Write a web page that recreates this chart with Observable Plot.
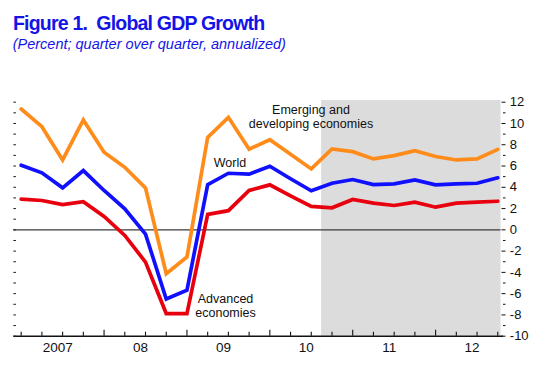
<!DOCTYPE html>
<html>
<head>
<meta charset="utf-8">
<script src="https://cdn.jsdelivr.net/npm/d3@7"></script>
<script src="https://cdn.jsdelivr.net/npm/@observablehq/plot@0.6"></script>
<style>
  body { margin: 0; background: #fff; width: 550px; height: 374px; overflow: hidden; font-family: "Liberation Sans", Arial, sans-serif; }
  #header { position: relative; height: 60px; }
  #title { position: absolute; left: 13px; top: 11.7px; font-size: 19.5px; font-weight: bold; color: #1414e6; letter-spacing: -0.8px; white-space: pre; line-height: normal; }
  #subtitle { position: absolute; left: 12.7px; top: 36.2px; font-size: 14.5px; font-style: italic; color: #1414e6; white-space: pre; line-height: normal; }
  #chart svg { display: block; }
</style>
</head>
<body>
<div id="header">
  <div id="title">Figure 1.  Global GDP Growth</div>
  <div id="subtitle">(Percent; quarter over quarter, annualized)</div>
</div>
<div id="chart"></div>
<script>
// ---- data ----
const quarters = [
  "2007Q1","2007Q2","2007Q3","2007Q4",
  "2008Q1","2008Q2","2008Q3","2008Q4",
  "2009Q1","2009Q2","2009Q3","2009Q4",
  "2010Q1","2010Q2","2010Q3","2010Q4",
  "2011Q1","2011Q2","2011Q3","2011Q4",
  "2012Q1","2012Q2","2012Q3","2012Q4"
];
const emerging = [11.36, 9.70, 6.57, 10.33, 7.29, 5.88, 3.95, -4.12, -2.56, 8.70, 10.58, 7.58,
                  8.47, 7.10, 5.73, 7.61, 7.35, 6.67, 6.98, 7.45, 6.89, 6.57, 6.67, 7.57];
const world    = [6.07, 5.36, 3.95, 5.57, 3.70, 1.98, -0.40, -6.50, -5.68, 4.25, 5.32, 5.23,
                  5.98, 4.80, 3.67, 4.38, 4.73, 4.26, 4.32, 4.70, 4.23, 4.32, 4.38, 4.89];
const advanced = [2.88, 2.76, 2.38, 2.64, 1.26, -0.53, -3.03, -7.87, -7.87, 1.45, 1.80, 3.70,
                  4.23, 3.20, 2.20, 2.07, 2.85, 2.51, 2.29, 2.60, 2.13, 2.51, 2.60, 2.69];
const seriesColors = {emerging: "#ff8c1a", world: "#1010ff", advanced: "#e8000e"};
const yearTicks = [2007, 2008, 2009, 2010, 2011, 2012];
const yearLabels = ["2007", "08", "09", "10", "11", "12"];
const yTicksMajor = [-10, -8, -6, -4, -2, 0, 2, 4, 6, 8, 10, 12];
const yTicksMinor = [-9, -7, -5, -3, -1, 1, 3, 5, 7, 9, 11];
const shadeStart = 2010.625;   // projection period
const annotations = [
  {label: "Emerging and\ndeveloping economies", x: 2010.496, y: 9.56},
  {label: "World", x: 2009.519, y: 5.89},
  {label: "Advanced\neconomies", x: 2009.465, y: -8.21}
];

// ---- build ----
const qx = quarters.map(q => +q.slice(0, 4) + (+q.slice(5) - 1) / 4);
const xMin = 2006.911, xMax = 2012.789;
const yMin = -10, yMax = 12.16;
const W = 550, H = 314, mT = 40, mB = 38.3, mL = 13.3, mR = 49.5;
const plotW = W - mL - mR, plotH = H - mT - mB;
const font = '"Liberation Sans", Arial, sans-serif';

const lineOpts = (key) => ({
  x: (d, i) => qx[i], y: d => d,
  stroke: seriesColors[key], strokeWidth: 3.7, strokeLinejoin: "miter", strokeMiterlimit: 3
});

const chart = Plot.plot({
  width: W, height: H,
  marginTop: mT, marginBottom: mB, marginLeft: mL, marginRight: mR,
  x: {domain: [xMin, xMax], axis: null},
  y: {domain: [yMin, yMax], axis: null},
  style: {fontFamily: font, background: "white", overflow: "visible", color: "#111"},
  marks: [
    Plot.rect([0], {x1: shadeStart, x2: xMax, y1: yMin, y2: yMax, fill: "#dcdcdc"}),
    Plot.ruleY([0], {stroke: "#3a3a3a", strokeWidth: 1.4}),
    Plot.line(emerging, lineOpts("emerging")),
    Plot.line(advanced, lineOpts("advanced")),
    Plot.line(world, lineOpts("world")),
    // bottom axis line
    Plot.ruleY([yMin], {stroke: "#111", strokeWidth: 1.5, insetRight: -2.5}),
    // bottom quarter ticks (inside)
    Plot.tickX(qx.filter(v => !(v % 1 === 0 && v > 2007)), {x: d => d, stroke: "#111", strokeWidth: 1.1, insetTop: plotH - 4}),
    Plot.tickX(yearTicks.filter(v => v > 2007), {x: d => d, stroke: "#111", strokeWidth: 1.1, insetTop: plotH - 6}),
    // left small inner ticks
    Plot.tickY(yTicksMajor.concat(yTicksMinor), {y: d => d, stroke: "#222", strokeWidth: 1, insetRight: plotW - 2.7}),
    // right axis
    Plot.axisY(yTicksMajor, {anchor: "right", label: null, tickSize: 4, tickPadding: 4.8, fontSize: 13, tickFormat: d => String(d), stroke: "#111", fill: "#111"}),
    Plot.axisY(yTicksMinor, {anchor: "right", label: null, tickSize: 2.5, dx: 1.5, tickFormat: () => "", stroke: "#111"}),
    // year labels
    Plot.text(yearTicks, {x: d => d + 0.44, frameAnchor: "bottom", text: (d, i) => yearLabels[i], dy: 16, lineAnchor: "bottom", fontSize: 13.5, fill: "#111"}),
    // annotations
    Plot.text(annotations, {x: "x", y: "y", text: "label", lineAnchor: "bottom", lineHeight: 1.1, fontSize: 12.5, textAnchor: "middle", fill: "#111"})
  ]
});
document.getElementById("chart").appendChild(chart);
</script>
</body>
</html>
